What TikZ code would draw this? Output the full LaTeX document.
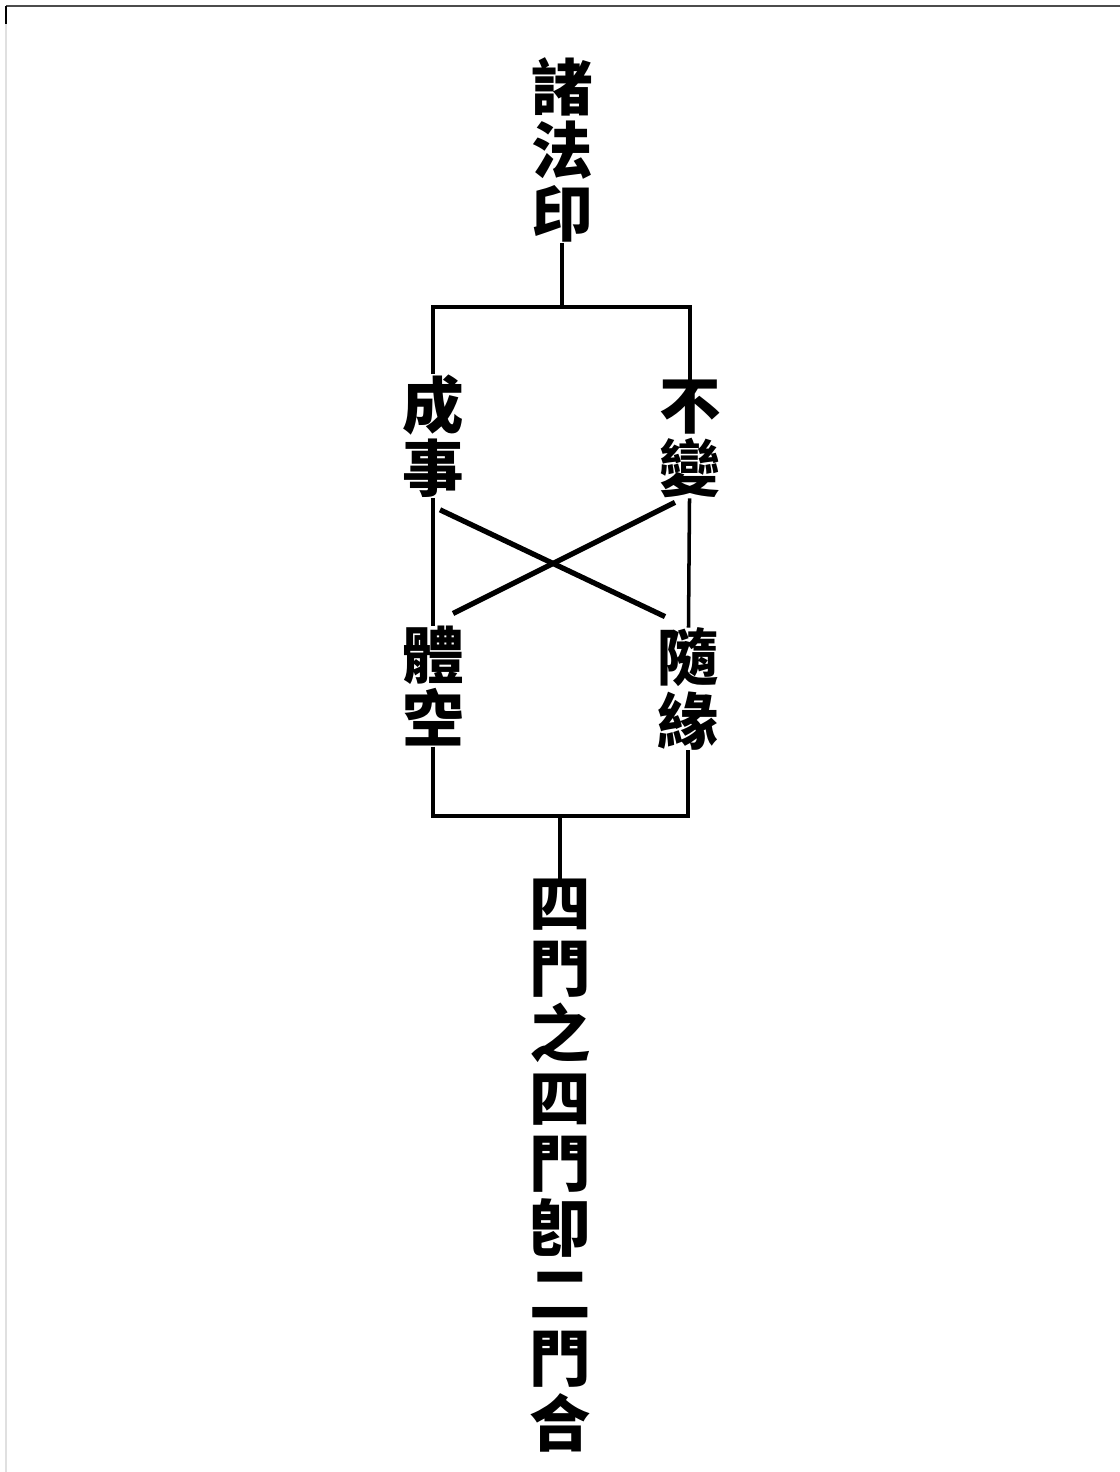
\documentclass[tikz,border=0pt]{standalone}
\usepackage{fontspec}
\newfontfamily\cjk{Noto Sans CJK TC}
\usetikzlibrary{calc}

\tikzset{
  zi/.style={font=\cjk\bfseries\fontsize{35}{36}\selectfont,align=center,inner sep=0pt},
  lian/.style={line width=2pt},
  jiao/.style={line width=3pt}
}

\begin{document}
\begin{tikzpicture}[x=0.02cm,y=-0.02cm]
\useasboundingbox (0,0) rectangle (1120,1472);
\draw[black!12,line width=0.6pt] (6,6) -- (6,1472);
\draw[black!70,line width=1.6pt] (6,6) -- (1120,6);
\draw[black,line width=1.2pt] (6,6) -- (6,24);

\node[zi] (zhufa) at (562,150) {諸\\法\\印};
\node[zi] (chengshi) at (433,436) {成\\事};
\node[zi] (bubian) at (690,439) {不\\變};
\node[zi] (tikong) at (433,686) {體\\空};
\node[zi] (suiyuan) at (688,689) {隨\\緣};
\node[zi,font=\cjk\bfseries\fontsize{35}{37}\selectfont] (simen) at (560,1166) {四\\門\\之\\四\\門\\卽\\二\\門\\合};

\coordinate (tl) at (434,307);
\coordinate (bl) at (430,816);

\draw[lian] (zhufa.south) -- (zhufa.south |- tl);
\draw[lian] (chengshi.north) -- (chengshi.north |- tl) -- (bubian.north |- tl) -- (bubian.north);
\draw[lian] (chengshi) -- (tikong);
\draw[lian] (bubian) -- (suiyuan);
\draw[lian] (tikong.south) -- (tikong.south |- bl) -- (suiyuan.south |- bl) -- (suiyuan.south);
\draw[lian] (simen.north) -- (simen.north |- bl);

\draw[jiao] ([shift={(7,12)}]chengshi.south) -- ([shift={(-23,-11)}]suiyuan.north);
\draw[jiao] ([shift={(-15,4)}]bubian.south) -- ([shift={(20,-12)}]tikong.north);
\end{tikzpicture}
\end{document}
